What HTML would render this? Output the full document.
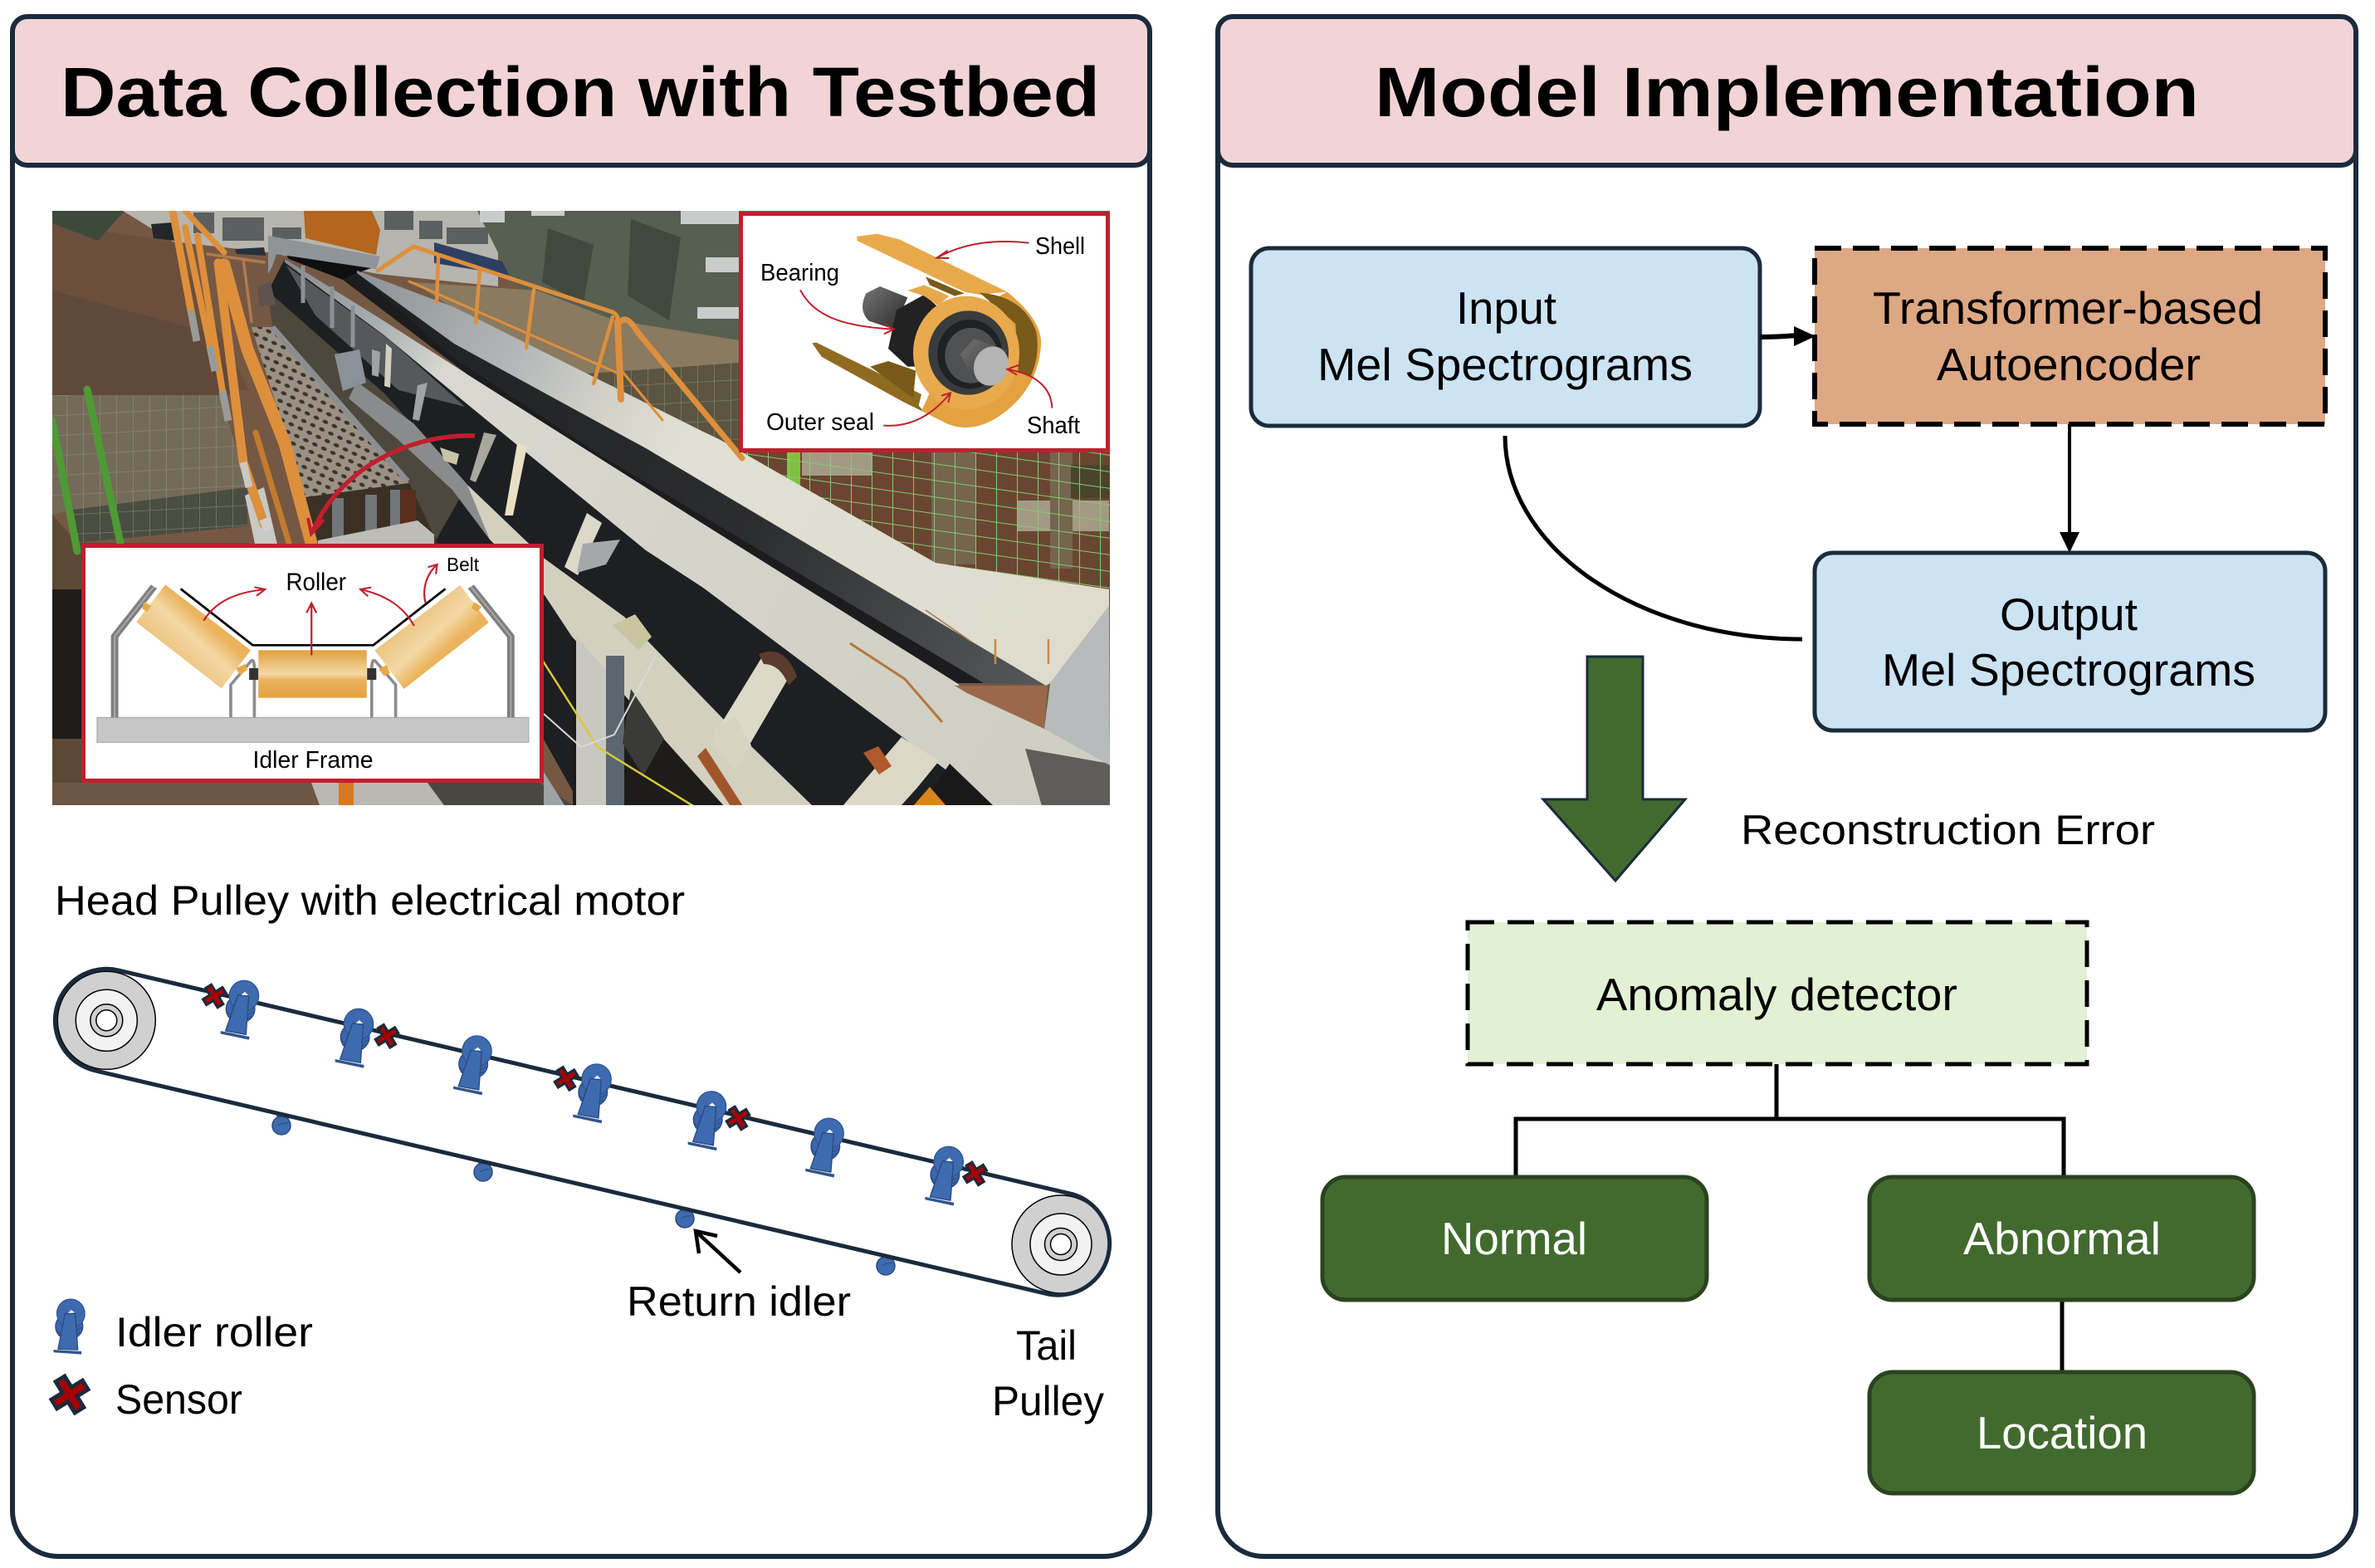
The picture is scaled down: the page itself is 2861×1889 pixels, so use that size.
<!DOCTYPE html>
<html><head><meta charset="utf-8"><style>html,body{margin:0;padding:0;background:#fff}svg{display:block}text{font-family:"Liberation Sans",sans-serif}</style></head>
<body>
<svg xmlns="http://www.w3.org/2000/svg" width="2861" height="1889" viewBox="0 0 2861 1889">
<defs>
<clipPath id="ph"><rect x="63" y="254" width="1274" height="716"/></clipPath>
<pattern id="mesh" width="12" height="10" patternUnits="userSpaceOnUse" patternTransform="rotate(25)"><rect width="12" height="10" fill="#9a9184"/><ellipse cx="6" cy="5" rx="3.600" ry="2.200" fill="#3a342c"/></pattern>
<pattern id="fence" width="25" height="20" patternUnits="userSpaceOnUse" patternTransform="skewY(8)"><path d="M0 0H25M0 0V20" stroke="#86c873" stroke-width="2" fill="none"/></pattern>
<pattern id="fence2" width="20" height="24" patternUnits="userSpaceOnUse" patternTransform="skewY(-3)"><path d="M0 0H20M0 0V24" stroke="#8fa07a" stroke-width="1.300" fill="none" opacity=".7"/></pattern>
<linearGradient id="railL" x1="345" y1="312" x2="1337" y2="900" gradientUnits="userSpaceOnUse"><stop offset="0" stop-color="#868a8f"/><stop offset=".12" stop-color="#aab0b2"/><stop offset=".2" stop-color="#d8d8d0"/><stop offset="1" stop-color="#cfcec2"/></linearGradient>
<linearGradient id="railR" x1="430" y1="327" x2="1300" y2="800" gradientUnits="userSpaceOnUse"><stop offset="0" stop-color="#8d9297"/><stop offset=".22" stop-color="#b3b7b8"/><stop offset=".33" stop-color="#d0d0c8"/><stop offset=".45" stop-color="#e0e0d4"/><stop offset="1" stop-color="#dfdccd"/></linearGradient>
<linearGradient id="beltU" x1="500" y1="370" x2="1260" y2="830" gradientUnits="userSpaceOnUse"><stop offset="0" stop-color="#202123"/><stop offset=".55" stop-color="#2c2d2f"/><stop offset=".8" stop-color="#444749"/><stop offset="1" stop-color="#55585a"/></linearGradient>
<linearGradient id="rollC" x1="0" y1="0" x2="0" y2="1"><stop offset="0" stop-color="#e2a13e"/><stop offset=".5" stop-color="#f3d8a6"/><stop offset=".62" stop-color="#ebb45e"/><stop offset="1" stop-color="#e2a13e"/></linearGradient>
<linearGradient id="rollL" x1="0" y1="1" x2="1" y2="0"><stop offset="0" stop-color="#e2a13e"/><stop offset=".5" stop-color="#f3d8a6"/><stop offset=".62" stop-color="#ebb45e"/><stop offset="1" stop-color="#e2a13e"/></linearGradient>
<linearGradient id="rollR" x1="0" y1="0" x2="1" y2="1"><stop offset="0" stop-color="#e2a13e"/><stop offset=".5" stop-color="#f3d8a6"/><stop offset=".62" stop-color="#ebb45e"/><stop offset="1" stop-color="#e2a13e"/></linearGradient>
<linearGradient id="sh" x1="0" y1="0" x2="1" y2="1"><stop offset="0" stop-color="#757575"/><stop offset="1" stop-color="#2a2a2a"/></linearGradient>
<g id="idl"><g transform="scale(.3333) translate(-735,-140)">
<ellipse cx="722" cy="195" rx="52" ry="50" fill="#3a66ad" stroke="#2a4a7e" stroke-width="4"/>
<path d="M672 205Q700 240 770 205M676 222Q705 250 762 222" fill="none" stroke="#2a4a7e" stroke-width="3"/>
<ellipse cx="735" cy="148" rx="53" ry="55" fill="#3e6ab0" stroke="#2f5590" stroke-width="4"/>
<path d="M722 147L738 134L750 146Z" fill="#fff"/>
<path d="M713 145L752 150L742 288L668 275Z" fill="#3e6ab0" stroke="#2a4a7e" stroke-width="4"/>
<path d="M650 275L755 296L753 307L650 285Z" fill="#2f5590"/>
</g></g>
<g id="ret"><path d="M-6 -13L10 -10L7 -2L-5 -2Z" fill="#3e6ab0"/><circle r="11" fill="#3e6ab0" stroke="#2a4a7e" stroke-width="1.500"/><path d="M-4 0Q1 -4 8 -3" fill="none" stroke="#2a4a7e" stroke-width="1"/></g>
<g id="sen"><path d="M-8 -13L8 13M-13 8L13 -8" stroke="#1a2b3c" stroke-width="11" fill="none"/><path d="M-6.500 -10.500L6.500 10.500M-10.500 6.500L10.500 -6.500" stroke="#a80000" stroke-width="5" fill="none"/></g>
</defs>

<!-- panels -->
<rect x="15" y="20" width="1370" height="1855" rx="55" fill="#fff" stroke="#1a2b3c" stroke-width="6"/>
<rect x="1467" y="20" width="1371" height="1855" rx="55" fill="#fff" stroke="#1a2b3c" stroke-width="6"/>
<rect x="15" y="20" width="1370" height="179" rx="18" fill="#f2d4d6" stroke="#1a2b3c" stroke-width="6"/>
<rect x="1467" y="20" width="1371" height="179" rx="18" fill="#f2d4d6" stroke="#1a2b3c" stroke-width="6"/>
<text x="73" y="140" font-size="84" font-weight="bold" textLength="1252" lengthAdjust="spacingAndGlyphs">Data Collection with Testbed</text>
<text x="1656" y="140" font-size="84" font-weight="bold" textLength="993" lengthAdjust="spacingAndGlyphs">Model Implementation</text>

<!-- photo -->
<g clip-path="url(#ph)">
<rect x="63" y="254" width="1274" height="716" fill="#755843"/>
<path d="M63 269L208 291L300 470L63 476Z" fill="#6b4f3c"/>
<path d="M63 350L250 400L290 476H63Z" fill="#60493a"/>
<path d="M63 476H265L300 590L88 614L63 620Z" fill="#746a58"/>
<path d="M63 476H265L300 590L88 614L63 620Z" fill="url(#fence2)"/>
<path d="M88 614L298 587V634L93 654Z" fill="#4a4d42"/>
<path d="M88 614L298 587V634L93 654Z" fill="url(#fence2)"/>
<path d="M63 620L93 654H300L310 975H63Z" fill="#5d4936"/>
<path d="M63 254H150L118 290L63 269Z" fill="#3d4a3b"/>
<path d="M148 254H600V345L455 330L323 304L208 291Z" fill="#b6b5ae"/>
<path d="M233 256h25v25h-25zM268 262h50v28h-50zM328 274h35v14h-35zM463 254h35v23h-35zM505 266h28v22h-28zM538 274h50v20h-50z" fill="#5a5f60"/>
<path d="M182 270L208 268L210 290L185 287Z" fill="#23272b"/>
<path d="M283 300L318 298L320 308L285 306Z" fill="#29303a"/>
<path d="M523 292L648 327V337L523 317Z" fill="#2e3f63"/>
<path d="M575 254H890V460L700 405L615 335Z" fill="#565f50"/>
<path d="M578 254h30v14h-30zM640 254h40v6h-40zM820 254h70v16h-70zM850 310h40v18h-40zM840 370h50v14h-50z" fill="#c8cdcb"/>
<path d="M660 275l55 20l-12 70l-50 -25zM760 264l60 22l-14 100l-50 -30z" fill="#3f493e"/>
<path d="M498 340L648 350L738 385L890 410V560L695 470Z" fill="#8a7a60"/>
<path d="M695 451L890 437V565L770 500Z" fill="#5a5441"/>
<path d="M695 451L890 437V565L770 500Z" fill="url(#fence2)"/>
<path d="M865 530H1337V725L1129 682L847 520Z" fill="#6a4630"/>
<path d="M966 545h84v28h-84zM1225 603h111v37h-111z" fill="#a39a84"/>
<path d="M1122 545h53v135h-53zM1265 545h27v140h-27z" fill="#74654f"/>
<path d="M1290 560h46v40h-46z" fill="#49452d"/>
<path d="M948 545h16v42h-16z" fill="#7fc13f"/>
<path d="M865 530H1337V725L1129 682L847 520Z" fill="url(#fence)"/>

<path d="M343 312L847 700L1197 971H700L520 650L323 351Z" fill="#1e1f22"/>
<path d="M323 351L463 474L563 584L520 660L493 582L328 394Z" fill="#4e483c"/>
<path d="M345 320L470 410L560 490L480 470L380 380Z" fill="#56595c"/>
<path d="M303 394H328L493 582L368 599Z" fill="url(#mesh)"/>
<path d="M328 394L491 580" stroke="#8b8e90" stroke-width="7"/>
<path d="M368 599L493 582L530 660H378Z" fill="#3a3024"/>
<path d="M400 600h14v55h-14zM440 596h14v58h-14zM470 590h12v60h-12z" fill="#70767b"/>
<path d="M483 590h18v60h-18z" fill="#5c2d1d"/>
<path d="M383 651L503 627L523 644L523 660H383Z" fill="#bdbcb7"/>
<path d="M295 597L318 587L335 660H308Z" fill="#c8c8c4"/>
<path d="M403 427l30 -6l8 40l-28 10z" fill="#8b9198"/>
<path d="M498 510L563 584L656 673L752 743L872 867L979 971H872L805 897L689 767L656 717L590 650L545 590L480 530Z" fill="#d4d0c0"/>
<path d="M430 460L498 510L563 584L590 650L545 590L480 530L420 480Z" fill="#898b8c"/>
<path d="M689 767L872 971H690Z" fill="#1d1c1a"/>
<path d="M694 767l36 40v164h-36z" fill="#c8c8c0"/>
<path d="M730 790h22v181h-22z" fill="#5a6670"/>
<path d="M760 830l40 60l-25 45l-25 -40z" fill="#3a3a38"/>
<path d="M650 790L720 900L835 971" stroke="#d8c93c" stroke-width="2.500" fill="none"/>
<path d="M655 860L700 900L740 885L790 790" stroke="#d8d8d8" stroke-width="2" fill="none"/>
<path d="M738 753L765 740L785 767L769 783Z" fill="#c8c59f"/>
<path d="M530 539L553 547L550 560L535 555Z" fill="#c9c4a4"/>
<path d="M880 971l-40 -60l10 -10l45 70z" fill="#a0562b"/>

<path d="M343 312L463 387L563 451L847 631L1153 823L1160 830L1258 878L1337 917V971H1197L1086 887L847 708L778 663L563 487L463 404L343 316Z" fill="url(#railL)"/>
<path d="M1235 902L1337 920V971H1255Z" fill="#5e5d59"/>
<path d="M343 304L453 321L430 329L413 337L348 312Z" fill="#0f0f10"/>
<path d="M413 337L430 329L547 414L778 540L1260 823L1153 823L847 631L563 451Z" fill="#1c1c1e"/>
<path d="M430 329L547 414L778 540L1260 825L1185 823L729 552L547 432Z" fill="url(#beltU)"/>
<path d="M430 326L547 370L847 520L868 530L1127 678L1336 710V730L1265 823L1260 826L778 540L547 414L430 329Z" fill="url(#railR)"/>
<path d="M1336 730L1265 823L1258 878L1337 922Z" fill="#b8bbbb"/>
<path d="M1150 826L1262 826L1258 878L1165 835Z" fill="#99694a"/>
<path d="M1115 735l55 38" stroke="#a37a4c" stroke-width="1.500" fill="none"/>
<path d="M1199 800V770M1263 800V770" stroke="#c68a45" stroke-width="2.500"/>
<path d="M1024 775L1090 818L1135 870" stroke="#b5763c" stroke-width="3" fill="none"/>

<path d="M917 793L952 813L903 897L868 873Z" fill="#dcd9c8"/>
<path d="M914 788Q945 775 960 815L950 826Q940 800 920 800Z" fill="#5b3b2c"/>
<path d="M860 880l25 -18l20 36l-20 30l-25 -30z" fill="#d7d4c4"/>
<path d="M707 618L725 630L696 693L680 683Z" fill="#dcd9c8"/>
<path d="M702 655L747 650L730 680L695 690Z" fill="#a5a8a8"/>
<path d="M1109 971L1144 920L1197 971Z" fill="#191919"/>
<path d="M1086 888L1131 917L1104 950L1085 971H1015Z" fill="#dcd8c8"/>
<path d="M1040 907l18 -8l16 24l-15 10z" fill="#b05a2c"/>
<path d="M1100 971L1120 948L1140 971Z" fill="#d9851f"/>
<path d="M583 521L598 524L573 581L566 578Z" fill="#a9a89e"/>
<path d="M503 464L515 461L505 507L497 505Z" fill="#a0a2a4"/>
<path d="M448 421L458 424L456 454L448 452Z" fill="#a0a2a4"/>
<path d="M623 534L635 537L618 621L608 621Z" fill="#e8e0c4"/>
<path d="M465 414L472 420L470 467L463 465Z" fill="#d2cfc0"/>
<path d="M365 320v45M400 345v50M425 368v50" stroke="#8d9197" stroke-width="5"/>

<path d="M366 254H448L458 277L453 307L368 287Z" fill="#b4651f"/>
<path d="M323 284L458 309L453 324L333 306L328 321L323 330Z" fill="#8f9499"/>
<path d="M310 345l16 -6l6 28l-20 2z" fill="#5f5250"/>

<path d="M105 469L145 654M63 507L93 664" stroke="#4f9a35" stroke-width="9" fill="none" stroke-linecap="round"/>

<g fill="none" stroke="#de8f3b" stroke-linecap="round">
<path d="M250 306L318 316M293 312L303 387" stroke-width="3.500" stroke="#b07a50"/>
<path d="M208 254L230 374" stroke-width="9"/>
<path d="M223 274L253 417" stroke-width="8"/>
<path d="M238 284L268 471" stroke-width="8"/>
<path d="M223 254L270 304" stroke-width="7"/>
<path d="M263 317L293 557L318 631" stroke-width="11"/>
<path d="M308 521L348 654" stroke-width="7" stroke="#c47a2f"/>
<path d="M270 319L298 421L343 534L375 654" stroke-width="15"/>
<path d="M455 326L498 297L738 376Q746 380 744 390" stroke-width="5"/>
<path d="M744 387L748 481" stroke-width="8"/>
<path d="M747 388Q755 378 768 400L894 552" stroke-width="7"/>
<path d="M528 309L526 364M578 326L573 389M643 349L634 419M738 382L715 462" stroke-width="4.500"/>
<path d="M493 339L743 449M745 442L798 506" stroke-width="3"/>
</g>
<path d="M230 374l7 37M253 417l6 30M268 471l7 36" stroke="#9a9a98" stroke-width="9"/>
<path d="M293 557l7 30" stroke="#c9c9c6" stroke-width="9"/>
<path d="M318 625l6 14" stroke="#cfcfcc" stroke-width="12"/>

<path d="M63 710H98V890H63Z" fill="#1f1d1c"/>
<path d="M63 943H400V970H63Z" fill="#6d5644"/>
<path d="M375 943H515L535 970H385Z" fill="#b9b8b3"/>
<path d="M408 943h18v27h-18z" fill="#d9781f"/>
<path d="M515 943H650L690 970H535Z" fill="#4a4741"/>
<path d="M655 930l25 40h-25z" fill="#9da3a6"/>
</g>

<path d="M572 525C500 522 410 560 376 642" fill="none" stroke="#c01f2e" stroke-width="5.500"/>
<path d="M371 624L375 643L390 626" fill="none" stroke="#c01f2e" stroke-width="4"/>

<!-- inset A -->
<rect x="892.500" y="257.500" width="442" height="285" fill="#fff" stroke="#c01f2e" stroke-width="5"/>
<g transform="translate(880,240) scale(.33333)">
<path d="M295 520L310 518L690 705L680 745L700 770L620 730L330 570Z" fill="#8f6a20"/>
<path d="M505 605L570 585L670 620L660 720Z" fill="#7a5a18"/>
<path d="M1000 335Q1130 440 1122 530Q1110 690 970 785Q870 850 780 810L690 765L720 700L880 400Z" fill="#e3a23f"/>
<path d="M457 135L530 125L610 145L1000 335L900 345L845 335L457 150Z" fill="#e8a94a"/>
<path d="M705 280L845 340L810 350L720 310Z" fill="#7a5a18"/>
<path d="M490 340L540 315L640 355L590 470L500 440Q460 400 490 340Z" fill="url(#sh)"/>
<path d="M600 400L700 345L745 385L670 605L640 605L570 540Z" fill="#222"/>
<path d="M640 330L700 310L790 350L750 385L700 350Z" fill="#e8a94a"/>
<path d="M900 338Q1060 350 1105 480Q1120 560 1085 640L1040 620L1030 450Z" fill="#7a5a18"/>
<ellipse cx="852" cy="555" rx="192" ry="205" fill="#e8aa4c"/>
<ellipse cx="860" cy="555" rx="145" ry="152" fill="#3a3b3d"/>
<ellipse cx="865" cy="560" rx="118" ry="125" fill="#202122"/>
<ellipse cx="870" cy="565" rx="95" ry="100" fill="#4f5052"/>
<path d="M830 560L880 505L1000 545L950 675L870 640Z" fill="url(#sh)"/>
<ellipse cx="942" cy="603" rx="62" ry="72" transform="rotate(20 942 603)" fill="#b4b4b4"/>
<g fill="none" stroke="#c01f2e" stroke-width="6">
<path d="M1078 158C960 145 850 155 745 212M785 185L745 212L790 213"/>
<path d="M252 328C300 420 400 460 590 470M555 450L590 470L555 487"/>
<path d="M553 818C650 825 730 780 795 700M762 710L795 700L787 735"/>
<path d="M1162 755C1160 680 1100 630 1000 615M1040 600L1000 615L1035 635"/>
</g>
</g>
<g font-size="29">
<text x="1247" y="306" textLength="60" lengthAdjust="spacingAndGlyphs">Shell</text>
<text x="916" y="338" textLength="95" lengthAdjust="spacingAndGlyphs">Bearing</text>
<text x="923" y="518" textLength="130" lengthAdjust="spacingAndGlyphs">Outer seal</text>
<text x="1237" y="522" textLength="64" lengthAdjust="spacingAndGlyphs">Shaft</text>
</g>

<!-- inset B -->
<rect x="100.500" y="657.500" width="552" height="283" fill="#fff" stroke="#c01f2e" stroke-width="5"/>
<g transform="translate(90,650) scale(.36996,.33333)">
<rect x="73" y="643" width="1405" height="90" fill="#c6c6c6" stroke="#a3a3a3" stroke-width="3"/>
<g fill="none" stroke-linejoin="round">
<path d="M258 170L130 350V643M1290 170L1420 350V643" stroke="#7f7f7f" stroke-width="24"/>
<path d="M258 170L130 350V643M1290 170L1420 350V643" stroke="#ababab" stroke-width="5"/>
<path d="M508 643V525L575 438Q585 430 585 470V643M967 643V470Q967 430 978 438L1045 525V643" stroke="#8c8c8c" stroke-width="10"/>
</g>
<rect x="568" y="465" width="30" height="42" fill="#333"/><rect x="952" y="465" width="30" height="42" fill="#333"/>
<rect x="598" y="400" width="353" height="172" fill="url(#rollC)"/>
<path d="M295 163L573 400L478 538L200 298Z" fill="url(#rollL)"/>
<path d="M1255 165L1348 300L1072 540L977 400Z" fill="url(#rollR)"/>
<path d="M225 225l25 15l-15 22l-15 -12zM525 465l30 -15l8 20l-25 20zM990 468l25 -15l12 30l-20 10zM1300 225l25 18l-15 20l-18 -15z" fill="#e8a94a"/>
<path d="M345 178L580 382H972L1207 178" fill="none" stroke="#000" stroke-width="8"/>
<g fill="none" stroke="#c01f2e" stroke-width="6">
<path d="M420 293C460 220 530 190 620 180M585 172L620 180L592 203"/>
<path d="M771 418V230M755 265L771 230L787 265"/>
<path d="M1105 312C1070 240 1010 200 930 180M965 173L930 180L955 205"/>
<path d="M1142 228C1130 170 1150 120 1180 90M1150 100L1180 90L1176 125"/>
</g>
</g>
<text x="344.500" y="711" font-size="30" textLength="72.500" lengthAdjust="spacingAndGlyphs">Roller</text>
<text x="538" y="688" font-size="23" textLength="39" lengthAdjust="spacingAndGlyphs">Belt</text>
<text x="304.500" y="925" font-size="29" textLength="145" lengthAdjust="spacingAndGlyphs">Idler Frame</text>

<!-- conveyor diagram -->
<text x="66" y="1102" font-size="50" textLength="759" lengthAdjust="spacingAndGlyphs">Head Pulley with electrical motor</text>
<use href="#ret" x="339" y="1356"/><use href="#ret" x="582" y="1412"/><use href="#ret" x="825" y="1468"/><use href="#ret" x="1067" y="1525"/>
<g stroke="#000" stroke-width="1.500">
<circle cx="128.300" cy="1229.300" r="59" fill="#d0d0d0"/><circle cx="128.300" cy="1229.300" r="37" fill="#f2f2f2"/><circle cx="128.300" cy="1229.300" r="19.500" fill="#d0d0d0"/><circle cx="128.300" cy="1229.300" r="12.500" fill="#fff"/>
<circle cx="1278" cy="1499" r="59" fill="#d0d0d0"/><circle cx="1278" cy="1499" r="37" fill="#f2f2f2"/><circle cx="1278" cy="1499" r="19.500" fill="#d0d0d0"/><circle cx="1278" cy="1499" r="12.500" fill="#fff"/>
</g>
<path d="M142.400 1168.900L1292 1438.700A62 62 0 0 1 1264 1559.300L114.200 1289.700A62 62 0 0 1 142.400 1168.900Z" fill="none" stroke="#1a2b3c" stroke-width="5"/>
<use href="#idl" x="294" y="1197"/><use href="#idl" x="432" y="1231"/><use href="#idl" x="574.500" y="1263.600"/><use href="#idl" x="718.600" y="1297.600"/><use href="#idl" x="857" y="1330.500"/><use href="#idl" x="998.600" y="1362.800"/><use href="#idl" x="1142.700" y="1396.900"/>
<use href="#sen" x="258.300" y="1200"/><use href="#sen" x="466" y="1248.300"/><use href="#sen" x="682" y="1299.400"/><use href="#sen" x="889" y="1347"/><use href="#sen" x="1174.700" y="1413.900"/>
<path d="M892 1533L841 1486M842 1510L838 1483L864 1489" fill="none" stroke="#000" stroke-width="4.500"/>
<text x="755" y="1585" font-size="50" textLength="270" lengthAdjust="spacingAndGlyphs">Return idler</text>
<text x="1224" y="1638" font-size="50" textLength="73" lengthAdjust="spacingAndGlyphs">Tail</text>
<text x="1195" y="1705" font-size="50" textLength="135" lengthAdjust="spacingAndGlyphs">Pulley</text>
<g transform="translate(85,1580) rotate(-8) scale(.95)"><use href="#idl"/></g>
<g transform="translate(84,1680) scale(1.600)"><use href="#sen"/></g>
<text x="139" y="1622" font-size="50" textLength="238" lengthAdjust="spacingAndGlyphs">Idler roller</text>
<text x="139" y="1703" font-size="50" textLength="153" lengthAdjust="spacingAndGlyphs">Sensor</text>

<!-- right flow -->
<rect x="1507" y="299" width="613" height="214" rx="22" fill="#cce3f3" stroke="#1a2b3c" stroke-width="5"/>
<rect x="2186" y="299" width="615" height="212" fill="#dda883" stroke="#000" stroke-width="6" stroke-dasharray="32 14"/>
<rect x="2186" y="666" width="615" height="214" rx="22" fill="#cce3f3" stroke="#1a2b3c" stroke-width="5"/>
<path d="M2120 406Q2140 406 2165 404" fill="none" stroke="#000" stroke-width="6"/>
<path d="M2161 393L2187 405L2161 417Z" fill="#000"/>
<path d="M2493 511V645" fill="none" stroke="#000" stroke-width="4"/>
<path d="M2481 641H2505L2493 666Z" fill="#000"/>
<path d="M1813 525A358 245 0 0 0 2171 770" fill="none" stroke="#000" stroke-width="5"/>
<path d="M1912 791H1979V963H2030L1946 1061L1859 963H1912Z" fill="#426a2e" stroke="#1a2b3c" stroke-width="3"/>
<rect x="1768" y="1111" width="746" height="171" fill="#e2f0d3" stroke="#000" stroke-width="5" stroke-dasharray="32 16"/>
<path d="M2140 1282V1348M1826 1417V1348H2486V1417M2484 1567V1652" fill="none" stroke="#000" stroke-width="5"/>
<g fill="#426a2e" stroke="#2a4320" stroke-width="5">
<rect x="1593" y="1418" width="463" height="148" rx="28"/>
<rect x="2252" y="1418" width="463" height="148" rx="28"/>
<rect x="2252" y="1653" width="463" height="146" rx="28"/>
</g>
<g font-size="55">
<text x="1754" y="390" textLength="121" lengthAdjust="spacingAndGlyphs">Input</text>
<text x="1587" y="458" textLength="452" lengthAdjust="spacingAndGlyphs">Mel Spectrograms</text>
<text x="2256" y="390" textLength="470" lengthAdjust="spacingAndGlyphs">Transformer-based</text>
<text x="2333" y="458" textLength="318" lengthAdjust="spacingAndGlyphs">Autoencoder</text>
<text x="2409" y="759" textLength="166" lengthAdjust="spacingAndGlyphs">Output</text>
<text x="2267" y="826" textLength="450" lengthAdjust="spacingAndGlyphs">Mel Spectrograms</text>
<text x="2097" y="1017" font-size="50" textLength="499" lengthAdjust="spacingAndGlyphs">Reconstruction Error</text>
<text x="1923" y="1217" textLength="435" lengthAdjust="spacingAndGlyphs">Anomaly detector</text>
<text x="1736" y="1511" fill="#fff" textLength="176" lengthAdjust="spacingAndGlyphs">Normal</text>
<text x="2365" y="1511" fill="#fff" textLength="238" lengthAdjust="spacingAndGlyphs">Abnormal</text>
<text x="2381" y="1745" fill="#fff" textLength="206" lengthAdjust="spacingAndGlyphs">Location</text>
</g>
</svg>
</body></html>
